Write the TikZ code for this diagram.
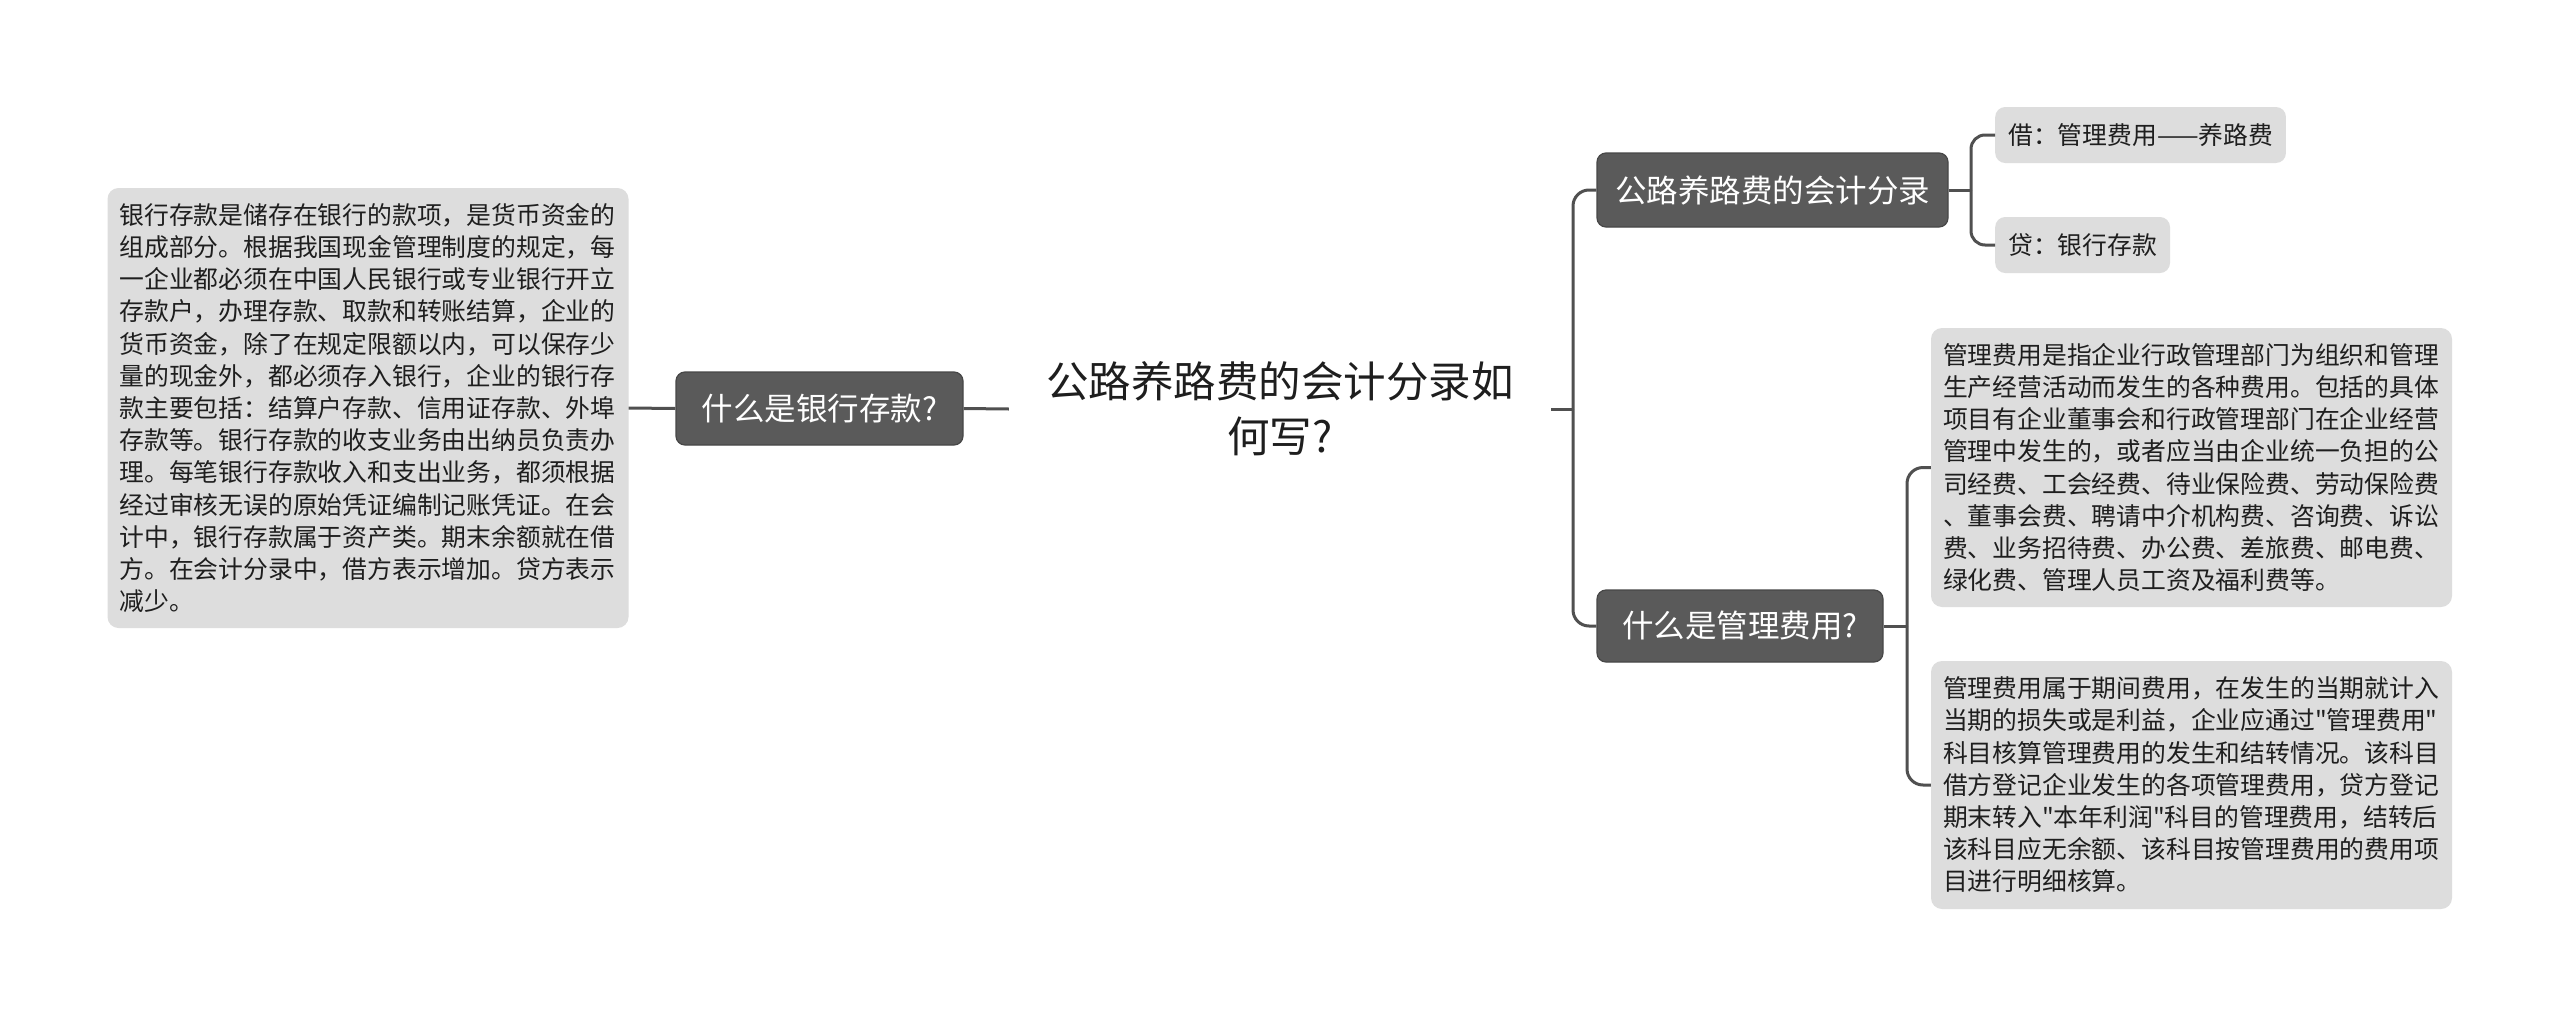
\documentclass[tikz,border=0pt]{standalone}
\usepackage{fontspec}
\setmainfont{Noto Sans CJK SC}[Ligatures=TeXOff]
\definecolor{darkn}{HTML}{5A5A5A}
\definecolor{darkb}{HTML}{474747}
\definecolor{lightn}{HTML}{DDDDDD}
\definecolor{connc}{HTML}{505050}
\definecolor{txt}{HTML}{1E1E1E}
\tikzset{
  darknode/.style={rectangle, rounded corners=9pt, fill=darkn, draw=darkb, line width=1.2pt,
    text=white, font=\fontsize{31.5pt}{38pt}\selectfont, inner sep=0pt},
  textbox/.style={rectangle, rounded corners=11pt, fill=lightn, text=txt,
    font=\fontsize{24.8pt}{32.2pt}\selectfont, text width=497pt, align=left,
    inner xsep=12pt, inner ysep=0pt, minimum width=521pt},
  leafbox/.style={rectangle, rounded corners=10pt, fill=lightn, text=txt,
    font=\fontsize{24.8pt}{30pt}\selectfont, inner xsep=13pt, inner ysep=0pt,
    minimum height=56pt, anchor=west},
  conn/.style={draw=connc, line width=3pt},
}
\begin{document}
\begin{tikzpicture}[x=1pt,y=-1pt]
\useasboundingbox[fill=white] (0,0) rectangle (2560,1017);

% central topic
\node[rectangle, minimum width=542pt, minimum height=150pt, align=center, text=txt,
  font=\fontsize{42.5pt}{55pt}\selectfont, inner sep=0pt] (center) at (1280,409)
  {公路养路费的会计分录如\\何写?};

% left branch
\node[darknode, minimum width=287pt, minimum height=73pt] (qbank) at (819.5,408.5) {什么是银行存款?};
\node[textbox, minimum height=440pt] (lbox) at (368,408) {银行存款是储存在银行的款项，是货币资金的\\
组成部分。根据我国现金管理制度的规定，每\\
一企业都必须在中国人民银行或专业银行开立\\
存款户，办理存款、取款和转账结算，企业的\\
货币资金，除了在规定限额以内，可以保存少\\
量的现金外，都必须存入银行，企业的银行存\\
款主要包括：结算户存款、信用证存款、外埠\\
存款等。银行存款的收支业务由出纳员负责办\\
理。每笔银行存款收入和支出业务，都须根据\\
经过审核无误的原始凭证编制记账凭证。在会\\
计中，银行存款属于资产类。期末余额就在借\\
方。在会计分录中，借方表示增加。贷方表示\\
减少。};

% right branches
\node[darknode, minimum width=351pt, minimum height=74pt] (acct) at (1772.5,190) {公路养路费的会计分录};
\node[darknode, minimum width=286pt, minimum height=72pt] (qmgmt) at (1740,626) {什么是管理费用?};

\node[leafbox] (jie) at (1995,135) {借：管理费用——养路费};
\node[leafbox] (dai) at (1995,245) {贷：银行存款};

\node[textbox, minimum height=279pt] (mbox1) at (2191.5,467.5) {管理费用是指企业行政管理部门为组织和管理\\
生产经营活动而发生的各种费用。包括的具体\\
项目有企业董事会和行政管理部门在企业经营\\
管理中发生的，或者应当由企业统一负担的公\\
司经费、工会经费、待业保险费、劳动保险费\\
、董事会费、聘请中介机构费、咨询费、诉讼\\
费、业务招待费、办公费、差旅费、邮电费、\\
绿化费、管理人员工资及福利费等。};

\node[textbox, minimum height=248pt] (mbox2) at (2191.5,785) {管理费用属于期间费用，在发生的当期就计入\\
当期的损失或是利益，企业应通过"管理费用"\\
科目核算管理费用的发生和结转情况。该科目\\
借方登记企业发生的各项管理费用，贷方登记\\
期末转入"本年利润"科目的管理费用，结转后\\
该科目应无余额、该科目按管理费用的费用项\\
目进行明细核算。};

% junction coordinates
\coordinate (rj) at (1573,409);
\coordinate (rj2) at (1907,626);
\coordinate (rj3) at (1971,190);

% connectors
\draw[conn] (lbox.east) -- (qbank.west);
\draw[conn] (qbank.east) -- (center.west);
\draw[conn] (center.east) -- (rj);
\draw[conn, rounded corners=16pt] (rj) |- (acct.west);
\draw[conn, rounded corners=16pt] (rj) |- (qmgmt.west);
\draw[conn] (acct.east) -- (rj3);
\draw[conn, rounded corners=14pt] (rj3) |- (jie.west);
\draw[conn, rounded corners=14pt] (rj3) |- (dai.west);
\draw[conn] (qmgmt.east) -- (rj2);
\draw[conn, rounded corners=16pt] (rj2) |- (mbox1.west);
\draw[conn, rounded corners=16pt] (rj2) |- (mbox2.west);
\end{tikzpicture}
\end{document}
